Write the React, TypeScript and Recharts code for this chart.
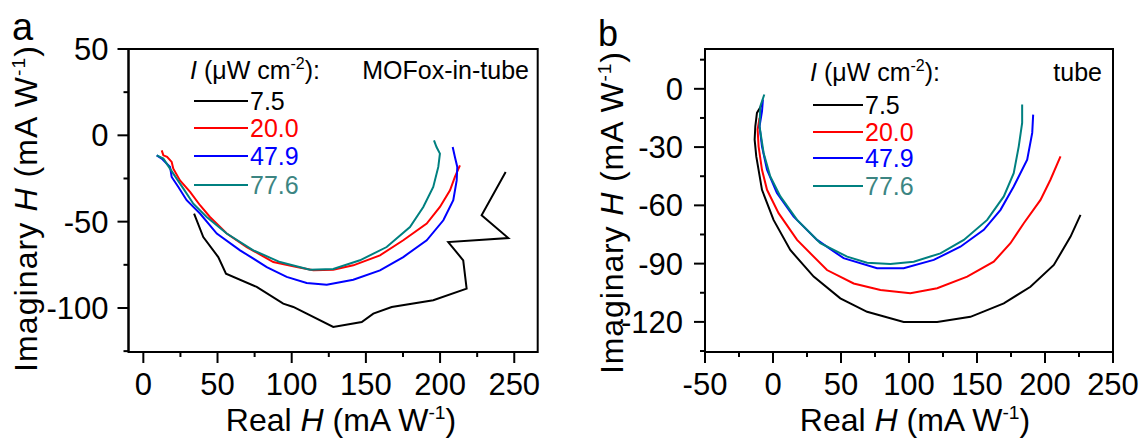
import React from 'react';
import { LineChart, Line, XAxis, YAxis, ReferenceArea } from 'recharts';

type Pt = [number, number];

const FONT = '"Liberation Sans", Arial, sans-serif';

// panel a: MOFox-in-tube, [real, imaginary] in mA/W
const mofox75: Pt[] = [
  [34.2, -45.3], [40.4, -58.9], [50.5, -70.5], [55.7, -80.1], [76.4, -87.8], [94.3, -97.5],
  [101.1, -99.4], [128.0, -111.0], [147.2, -108.1], [155.0, -103.3], [167.4, -99.4],
  [195.4, -95.5], [217.9, -88.8], [215.6, -72.4], [205.5, -61.8], [246.0, -59.5],
  [228.0, -46.3], [244.2, -21.2],
];
const mofox200: Pt[] = [
  [12.4, -8.7], [13.5, -11.6], [16.0, -12.5], [19.1, -15.4], [20.2, -19.3], [24.7, -26.1],
  [31.5, -32.8], [38.2, -40.5], [44.9, -47.3], [56.2, -56.9], [69.7, -64.7], [87.6, -73.4],
  [103.4, -76.3], [114.6, -78.2], [128.0, -77.8], [141.5, -75.3], [159.5, -69.5],
  [175.2, -60.8], [191.0, -51.1], [199.9, -41.5], [206.7, -31.8], [210.0, -24.1], [213.4, -17.4],
];
const mofox479: Pt[] = [
  [9.0, -11.6], [12.4, -13.5], [18.0, -18.3], [19.1, -24.1], [23.6, -29.9], [29.2, -37.6],
  [38.2, -45.3], [49.5, -56.9], [65.2, -66.6], [83.2, -76.3], [96.6, -82.0], [110.1, -85.5],
  [123.6, -86.5], [141.5, -83.6], [159.5, -78.2], [175.2, -70.5], [191.0, -60.8],
  [202.2, -49.2], [208.9, -37.6], [211.2, -26.1], [211.6, -18.3], [210.0, -12.6], [208.5, -6.8],
];
const mofox776: Pt[] = [
  [9.0, -11.6], [13.5, -13.5], [20.2, -22.2], [27.0, -30.9], [33.7, -39.6], [42.7, -47.3],
  [56.2, -56.9], [74.1, -66.6], [92.1, -73.4], [112.3, -77.8], [128.0, -77.4], [146.0, -72.4],
  [164.0, -64.7], [179.7, -53.1], [188.7, -41.5], [195.4, -29.9], [198.8, -18.3],
  [199.9, -10.6], [197.6, -6.8], [195.9, -2.9],
];

// panel b: tube
const tube75: Pt[] = [
  [-8.1, -8.1], [-11.8, -12.4], [-13.0, -19.3], [-13.5, -26.2], [-12.3, -34.8], [-8.1, -52.0],
  [0.4, -67.5], [12.7, -83.0], [29.9, -96.7], [49.5, -107.9], [69.2, -114.8], [96.1, -120.0],
  [120.7, -120.0], [145.2, -117.4], [169.7, -110.5], [189.3, -101.9], [206.5, -90.7],
  [218.8, -76.1], [226.1, -64.9],
];
const tube200: Pt[] = [
  [-9.9, -15.0], [-11.3, -21.0], [-10.6, -29.6], [-8.1, -41.7], [-4.4, -52.0], [4.1, -64.0],
  [17.7, -77.8], [39.7, -93.3], [59.3, -100.2], [79.0, -103.6], [101.0, -105.3],
  [120.7, -102.7], [142.8, -96.7], [162.3, -89.0], [174.6, -79.5], [184.4, -69.2],
  [196.7, -57.2], [204.0, -46.8], [211.4, -34.8],
];
const tube479: Pt[] = [
  [-7.4, -5.5], [-8.1, -11.6], [-9.9, -19.3], [-8.1, -29.6], [-4.4, -41.7], [2.9, -53.7],
  [15.2, -65.8], [32.4, -77.8], [51.9, -87.2], [76.5, -92.4], [96.1, -92.4], [118.2, -88.1],
  [137.8, -81.3], [155.0, -72.6], [167.3, -62.3], [177.0, -50.3], [186.9, -36.5],
  [190.6, -22.7], [191.3, -13.3],
];
const tube776: Pt[] = [
  [-6.4, -2.9], [-9.3, -9.0], [-9.9, -19.3], [-6.9, -33.0], [-2.0, -45.1], [5.4, -55.4],
  [17.7, -67.5], [34.8, -79.5], [54.5, -86.4], [69.2, -89.5], [86.3, -90.2], [103.5, -89.0],
  [123.1, -84.7], [140.3, -77.8], [157.5, -67.5], [169.7, -55.4], [177.0, -43.4],
  [180.7, -29.6], [183.2, -17.6], [183.2, -8.1],
];

const intensityLabels = ['7.5', '20.0', '47.9', '77.6'];
const lineColors = ['#000000', '#ff0000', '#0000ff', '#008080'];
const textColors = ['#000000', '#ff0000', '#0000ff', '#3c8582'];

const aXTicks = [0, 25, 50, 75, 100, 125, 150, 175, 200, 225, 250];
const aYTicks = [-125, -100, -75, -50, -25, 0, 25, 50];
const bXTicks = [-50, -25, 0, 25, 50, 75, 100, 125, 150, 175, 200, 225, 250];
const bYTicks = [-135, -120, -105, -90, -75, -60, -45, -30, -15, 0, 15];

const toRows = (pts: Pt[]) => pts.map(([x, y]) => ({ x, y }));

const makeXTick = (major: number) => (props: any) => {
  const { x, y, payload } = props;
  const isMajor = payload.value % major === 0;
  return (
    <g>
      <line x1={x} y1={y} x2={x} y2={y + (isMajor ? 11 : 5)} stroke="#000" strokeWidth={2} />
      {isMajor && (
        <text x={x} y={y + 43} textAnchor="middle" fontSize={31} fontFamily={FONT} fill="#000">
          {payload.value}
        </text>
      )}
    </g>
  );
};

const makeYTick = (major: number, gap: number) => (props: any) => {
  const { x, y, payload } = props;
  const isMajor = payload.value % major === 0;
  return (
    <g>
      <line x1={x} y1={y} x2={x - (isMajor ? 11 : 5)} y2={y} stroke="#000" strokeWidth={2} />
      {isMajor && (
        <text x={x - gap} y={y + 11} textAnchor="end" fontSize={31} fontFamily={FONT} fill="#000">
          {payload.value}
        </text>
      )}
    </g>
  );
};

interface PanelProps {
  left: number;
  width: number;
  plotLeft: number;
  plotRight: number;
  xDomain: [number, number];
  yDomain: [number, number];
  xTicks: number[];
  yTicks: number[];
  xMajor: number;
  yMajor: number;
  yGap: number;
  series: Pt[][];
}

const AXIS_W = 40;
const AXIS_H = 40;
const PLOT_TOP = 49;
const PLOT_BOTTOM = 352;

const Panel: React.FC<PanelProps> = (p) => {
  const frame = { stroke: '#000', strokeWidth: 2 };
  const margin = {
    top: PLOT_TOP,
    bottom: 441 - PLOT_BOTTOM - AXIS_H,
    left: p.plotLeft - AXIS_W,
    right: p.width - p.plotRight,
  };
  return (
    <div style={{ position: 'absolute', left: p.left, top: 0 }}>
      <LineChart width={p.width} height={441} margin={margin}>
        <XAxis
          xAxisId="main"
          type="number"
          dataKey="x"
          domain={p.xDomain}
          ticks={p.xTicks}
          interval={0}
          allowDataOverflow
          height={AXIS_H}
          tickSize={0}
          tickMargin={0}
          tickLine={false}
          axisLine={frame}
          tick={makeXTick(p.xMajor)}
        />
        <YAxis
          yAxisId="main"
          type="number"
          dataKey="y"
          domain={p.yDomain}
          ticks={p.yTicks}
          interval={0}
          allowDataOverflow
          width={AXIS_W}
          tickSize={0}
          tickMargin={0}
          tickLine={false}
          axisLine={frame}
          tick={makeYTick(p.yMajor, p.yGap)}
        />
        <ReferenceArea
          xAxisId="main"
          yAxisId="main"
          x1={p.xDomain[0]}
          x2={p.xDomain[1]}
          y1={p.yDomain[0]}
          y2={p.yDomain[1]}
          fill="none"
          fillOpacity={0}
          stroke="#000"
          strokeWidth={2}
          ifOverflow="visible"
        />
        {p.series.map((pts, i) => (
          <Line
            key={i}
            xAxisId="main"
            yAxisId="main"
            data={toRows(pts)}
            dataKey="y"
            type="linear"
            stroke={lineColors[i]}
            strokeWidth={2}
            dot={false}
            isAnimationActive={false}
          />
        ))}
      </LineChart>
    </div>
  );
};

const Unit: React.FC<{ size: number }> = ({ size }) => (
  <>
    <tspan>(mA W</tspan>
    <tspan dy={-size * 0.38} fontSize={size * 0.6}>-1</tspan>
    <tspan dy={size * 0.38}>)</tspan>
  </>
);

const LegendBlock: React.FC<{ tx: number; ty: number; lx: number; lw: number; rows: number[]; tag: string; tagX: number }> = ({ tx, ty, lx, lw, rows, tag, tagX }) => (
  <g fontFamily={FONT} fontSize={25}>
    <text x={tx} y={ty} fill="#000">
      <tspan fontStyle="italic">I</tspan>
      <tspan> (μW cm</tspan>
      <tspan dy={-10} fontSize={16}>-2</tspan>
      <tspan dy={10}>):</tspan>
    </text>
    <text x={tagX} y={ty} textAnchor="end" fill="#000">{tag}</text>
    {intensityLabels.map((lab, i) => (
      <g key={lab}>
        <line x1={lx} x2={lx + lw} y1={rows[i]} y2={rows[i]} stroke={lineColors[i]} strokeWidth={2} />
        <text x={lx + lw + 2} y={rows[i] + 9} fill={textColors[i]}>{lab}</text>
      </g>
    ))}
  </g>
);

const YTitle: React.FC<{ x: number; y: number; len: number }> = ({ x, y, len }) => (
  <text
    transform={`translate(${x},${y}) rotate(-90)`}
    fontSize={32}
    textAnchor="middle"
    textLength={len}
    lengthAdjust="spacing"
  >
    <tspan>Imaginary </tspan>
    <tspan fontStyle="italic">H</tspan>
    <tspan> </tspan>
    <Unit size={32} />
  </text>
);

const XTitle: React.FC<{ x: number; y: number }> = ({ x, y }) => (
  <text x={x} y={y} fontSize={32} textAnchor="middle">
    <tspan>Real </tspan>
    <tspan fontStyle="italic">H</tspan>
    <tspan> </tspan>
    <Unit size={32} />
  </text>
);

export default function App() {
  return (
    <div style={{ position: 'absolute', left: 0, top: 0, width: 1144, height: 441, background: '#fff', overflow: 'hidden' }}>
      <Panel
        left={0}
        width={560}
        plotLeft={128.5}
        plotRight={537.7}
        xDomain={[-10, 265.8]}
        yDomain={[-125.5, 50]}
        xTicks={aXTicks}
        yTicks={aYTicks}
        xMajor={50}
        yMajor={50}
        yGap={20}
        series={[mofox75, mofox200, mofox479, mofox776]}
      />
      <Panel
        left={572}
        width={572}
        plotLeft={133}
        plotRight={541}
        xDomain={[-50, 250]}
        yDomain={[-135.5, 20.5]}
        xTicks={bXTicks}
        yTicks={bYTicks}
        xMajor={50}
        yMajor={30}
        yGap={22}
        series={[tube75, tube200, tube479, tube776]}
      />
      <svg width={1144} height={441} style={{ position: 'absolute', left: 0, top: 0, pointerEvents: 'none' }}>
        <g fontFamily={FONT} fill="#000">
          <text x={12} y={40} fontSize={38}>a</text>
          <text x={598} y={46} fontSize={36}>b</text>
          <XTitle x={341} y={431} />
          <XTitle x={915} y={431} />
          <YTitle x={37} y={209} len={326} />
          <YTitle x={623} y={213} len={322} />
        </g>
        <LegendBlock tx={190} ty={79} lx={194} lw={54} rows={[101, 128, 156, 185]} tag="MOFox-in-tube" tagX={529} />
        <LegendBlock tx={810} ty={81} lx={813} lw={50} rows={[105, 132, 158, 186]} tag="tube" tagX={1102} />
      </svg>
    </div>
  );
}
